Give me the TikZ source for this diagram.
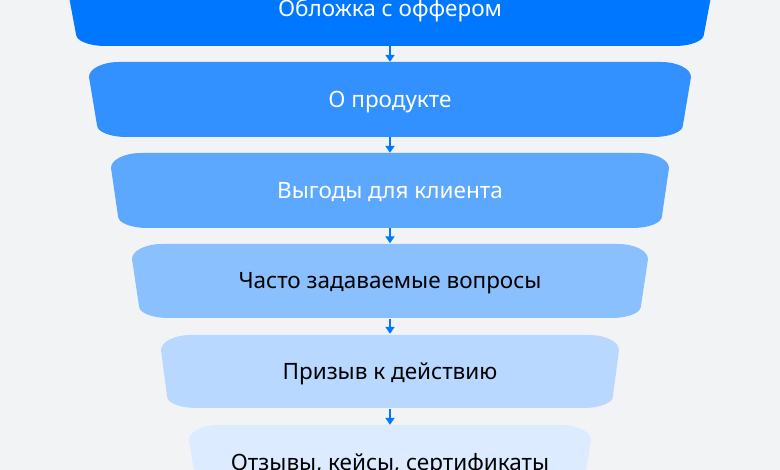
\documentclass[tikz,border=0pt]{standalone}
\usepackage{fontspec}
\setmainfont{Noto Sans}
\usetikzlibrary{arrows.meta}
\definecolor{bg}{HTML}{F2F3F5}
\definecolor{vkblue}{HTML}{0077FF}
\definecolor{stepa}{HTML}{0077FF}
\definecolor{stepb}{HTML}{3391FF}
\definecolor{stepc}{HTML}{5DA8FF}
\definecolor{stepd}{HTML}{8BC0FF}
\definecolor{stepe}{HTML}{B8D8FF}
\definecolor{stepf}{HTML}{DCEBFF}

\begin{document}
\begin{tikzpicture}[x=1pt, y=-1pt,
    label/.style = {minimum height=75pt, inner sep=0pt, text height=16pt, text depth=0pt, font=\fontsize{22.5}{27}\selectfont},
    arrow/.style = {vkblue, line width=2pt, -{Triangle[width=9pt, length=7pt]}}]
    \fill[bg] (-390,0) rectangle (390,470);
    \useasboundingbox (-390,0) rectangle (390,470);
    \clip (-390,0) rectangle (390,470);

    \fill[stepa] (-293,-29) -- (293,-29) .. controls (310,-29) and (323,-22) .. (323,-14) -- (314,34) .. controls (314,41) and (301,46) .. (284,46) -- (-284,46) .. controls (-301,46) and (-314,41) .. (-314,34) -- (-323,-14) .. controls (-323,-22) and (-310,-29) .. (-293,-29) -- cycle;
    \fill[stepb] (-271,62) -- (271,62) .. controls (288,62) and (301,69) .. (301,77) -- (293,125) .. controls (293,132) and (280,137) .. (263,137) -- (-263,137) .. controls (-280,137) and (-293,132) .. (-293,125) -- (-301,77) .. controls (-301,69) and (-288,62) .. (-271,62) -- cycle;
    \fill[stepc] (-249,153) -- (249,153) .. controls (266,153) and (279,160) .. (279,168) -- (272,216) .. controls (272,223) and (259,228) .. (242,228) -- (-242,228) .. controls (-259,228) and (-272,223) .. (-272,216) -- (-279,168) .. controls (-279,160) and (-266,153) .. (-249,153) -- cycle;
    \fill[stepd] (-228,244) -- (228,244) .. controls (245,244) and (258,251) .. (258,259) -- (251,306) .. controls (251,313) and (238,318) .. (221,318) -- (-221,318) .. controls (-238,318) and (-251,313) .. (-251,306) -- (-258,259) .. controls (-258,251) and (-245,244) .. (-228,244) -- cycle;
    \fill[stepe] (-199,335) -- (199,335) .. controls (216,335) and (229,342) .. (229,350) -- (223,396) .. controls (223,403) and (210,408) .. (193,408) -- (-193,408) .. controls (-210,408) and (-223,403) .. (-223,396) -- (-229,350) .. controls (-229,342) and (-216,335) .. (-199,335) -- cycle;
    \fill[stepf] (-171,425) -- (171,425) .. controls (188,425) and (201,432) .. (201,440) -- (193,488) .. controls (193,495) and (180,500) .. (163,500) -- (-163,500) .. controls (-180,500) and (-193,495) .. (-193,488) -- (-201,440) .. controls (-201,432) and (-188,425) .. (-171,425) -- cycle;

    \node[label, white] (cover) at (0,8.5) {Обложка с оффером};
    \node[label, white] (product) at (0,99.5) {О продукте};
    \node[label, white] (benefits) at (0,190.5) {Выгоды для клиента};
    \node[label, black] (faq) at (0,281) {Часто задаваемые вопросы};
    \node[label, black] (cta) at (0,371.5) {Призыв к действию};
    \node[label, black] (reviews) at (0,462.5) {Отзывы, кейсы, сертификаты};

    \draw[arrow] (cover.south) -- (product.north);
    \draw[arrow] (product.south) -- (benefits.north);
    \draw[arrow] (benefits.south) -- (faq.north);
    \draw[arrow] (faq.south) -- (cta.north);
    \draw[arrow] (cta.south) -- (reviews.north);
\end{tikzpicture}
\end{document}
